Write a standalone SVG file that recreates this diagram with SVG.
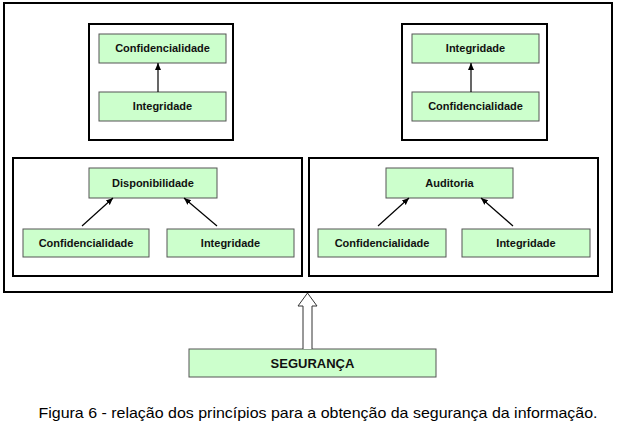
<svg xmlns="http://www.w3.org/2000/svg" width="617" height="426" viewBox="0 0 617 426">
<style>
.frame{fill:#fff;stroke:#000;stroke-width:2}
.box{fill:#ccffcc;stroke:#555;stroke-width:1}
.lbl{font-family:"Liberation Sans",Arial,sans-serif;font-weight:bold;font-size:11px;fill:#111;text-anchor:middle}
.con{stroke:#000;stroke-width:1.2;fill:none;marker-end:url(#ah)}
.cap{font-family:"Liberation Sans",Arial,sans-serif;font-size:15px;fill:#000;text-anchor:middle}
</style>
<defs>
<marker id="ah" markerWidth="8" markerHeight="8" refX="7" refY="4" orient="auto" markerUnits="userSpaceOnUse">
<path d="M0,1 L7,4 L0,7 Z" fill="#000"/>
</marker>
</defs>
<rect id="outer" class="frame" x="4" y="3" width="608" height="289"/>
<g id="group-tl"><rect class="frame" x="89" y="24" width="144" height="116"/></g>
<g id="group-tr"><rect class="frame" x="402" y="24" width="145" height="116"/></g>
<g id="group-bl"><rect class="frame" x="13" y="158" width="289" height="118"/></g>
<g id="group-br"><rect class="frame" x="309" y="158" width="289" height="118"/></g>

<g id="tl-conf"><rect class="box" x="99" y="34" width="127" height="29"/><text class="lbl" x="162.5" y="52">Confidencialidade</text></g>
<g id="tl-int"><rect class="box" x="99" y="92" width="127" height="29"/><text class="lbl" x="162.5" y="110">Integridade</text></g>
<g id="tr-int"><rect class="box" x="412" y="34" width="127" height="29"/><text class="lbl" x="475.5" y="52">Integridade</text></g>
<g id="tr-conf"><rect class="box" x="412" y="92" width="127" height="29"/><text class="lbl" x="475.5" y="110">Confidencialidade</text></g>
<g id="bl-disp"><rect class="box" x="89" y="168" width="128" height="30"/><text class="lbl" x="153" y="187">Disponibilidade</text></g>
<g id="bl-conf"><rect class="box" x="23" y="229" width="126" height="28"/><text class="lbl" x="86" y="247">Confidencialidade</text></g>
<g id="bl-int"><rect class="box" x="167" y="229" width="127" height="28"/><text class="lbl" x="230.5" y="247">Integridade</text></g>
<g id="br-aud"><rect class="box" x="386" y="168" width="127" height="30"/><text class="lbl" x="449.5" y="187">Auditoria</text></g>
<g id="br-conf"><rect class="box" x="318" y="229" width="128" height="28"/><text class="lbl" x="382" y="247">Confidencialidade</text></g>
<g id="br-int"><rect class="box" x="462" y="229" width="128" height="28"/><text class="lbl" x="526" y="247">Integridade</text></g>
<g id="seg"><rect class="box" x="189" y="349" width="247" height="28"/><text class="lbl" x="312.5" y="368" style="font-size:13px">SEGURANÇA</text></g>

<g id="connectors">
<line class="con" x1="158" y1="92" x2="158" y2="63"/>
<line class="con" x1="471" y1="92" x2="471" y2="63"/>
<line class="con" x1="82" y1="226" x2="113" y2="198"/>
<line class="con" x1="217" y1="226" x2="184" y2="198"/>
<line class="con" x1="378" y1="226" x2="409" y2="198"/>
<line class="con" x1="513" y1="226" x2="481" y2="198"/>
<path d="M303,349 L303,306 L298,306 L307.5,293 L317,306 L312,306 L312,349" fill="#fff" stroke="#333" stroke-width="1"/>
</g>

<text class="cap" x="318" y="418" textLength="559" lengthAdjust="spacingAndGlyphs">Figura 6 - relação dos princípios para a obtenção da segurança da informação.</text>
</svg>
